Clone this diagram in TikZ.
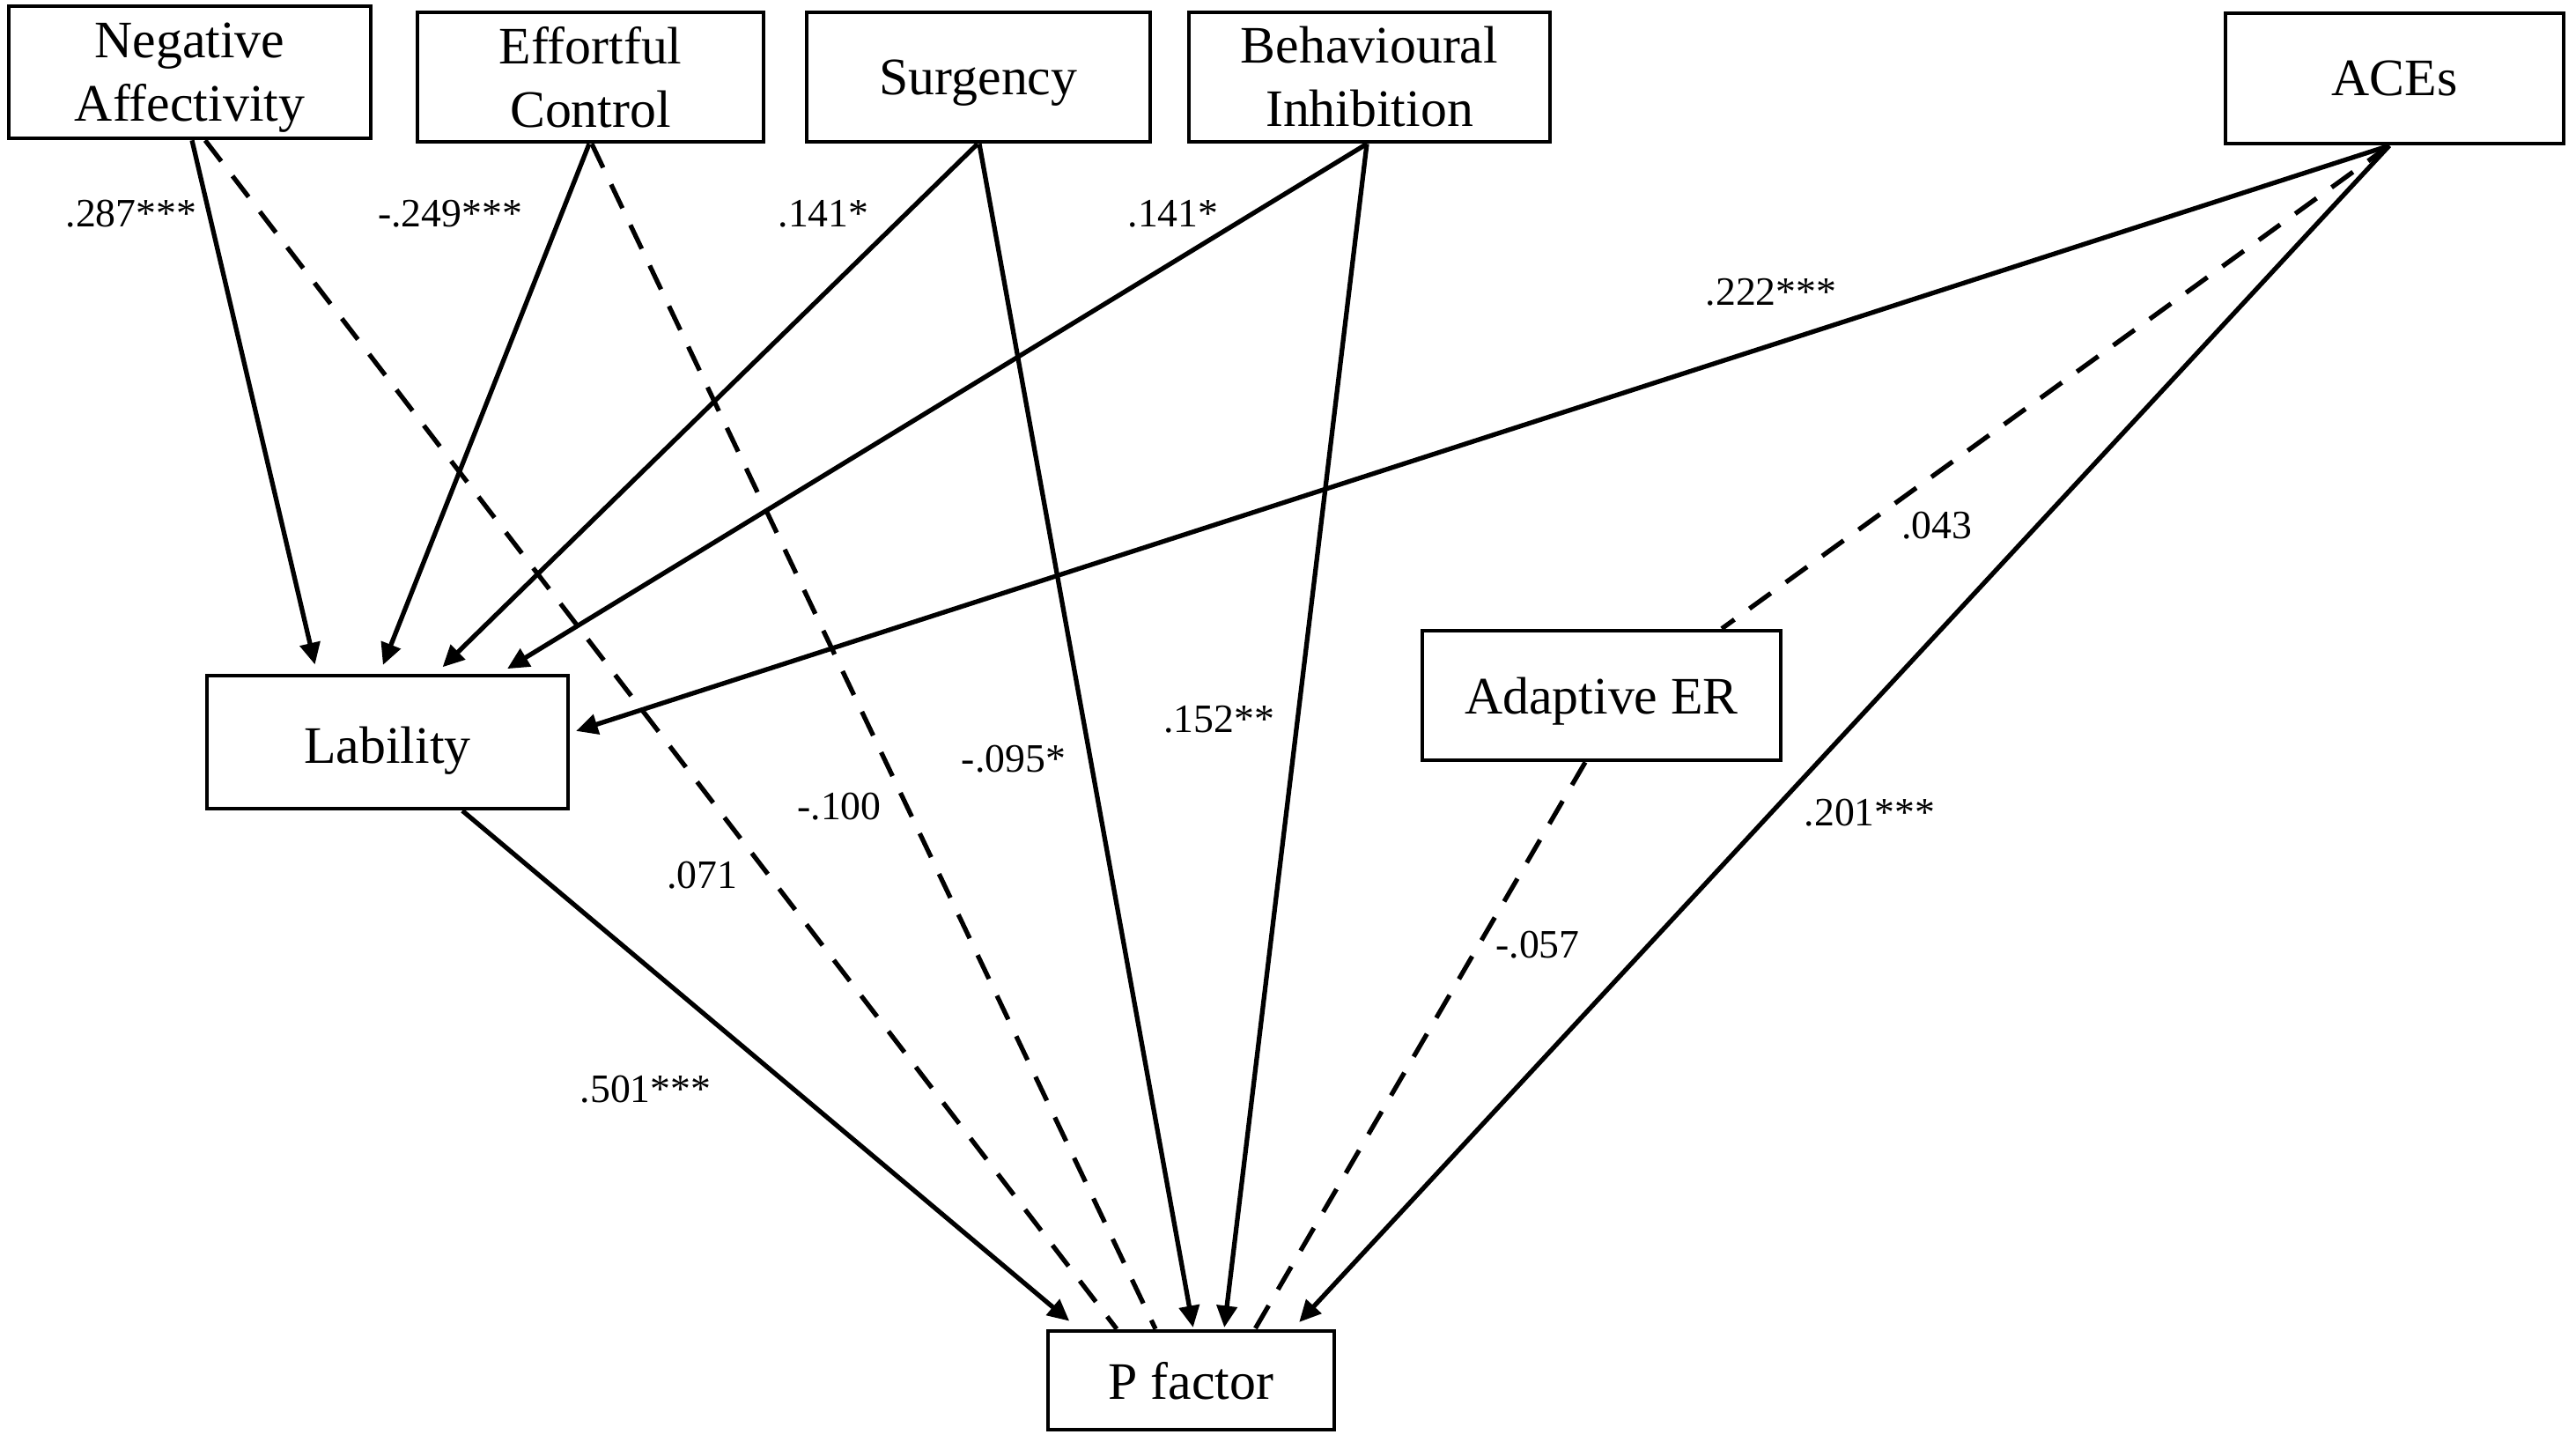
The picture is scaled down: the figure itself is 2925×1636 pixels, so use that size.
\documentclass[tikz,border=0pt]{standalone}
\usepackage{fontspec}
\setmainfont{Liberation Serif}
\usetikzlibrary{arrows.meta}
\newcommand\nodepth[1]{\raisebox{0pt}[\height][0pt]{#1}}
\begin{document}
\begin{tikzpicture}[x=0.01cm,y=-0.01cm,
  box/.style={draw, line width=1.3pt, inner sep=0pt, align=center, font=\fontsize{17}{20.5}\selectfont},
  onebox/.style={box, text depth=0pt},
  coef/.style={inner sep=0pt, font=\fontsize{13}{15}\selectfont},
  sol/.style={line width=1.5pt, -{Triangle[length=7pt,width=6.5pt]}, shorten >=3pt},
  dsh/.style={line width=1.5pt, dash pattern=on 8.5pt off 6pt},
]
\useasboundingbox[fill=white] (0,0) rectangle (2925,1636);
% boxes
\node[box, minimum width=4.11cm, minimum height=1.50cm] (NA) at (215.5,82) {Negative\\\nodepth{Affectivity}};
\node[box, minimum width=3.93cm, minimum height=1.47cm] (EC) at (670.5,87.5) {Effortful\\Control};
\node[onebox, minimum width=3.90cm, minimum height=1.47cm] (SU) at (1111,87.5) {Surgency};
\node[box, minimum width=4.10cm, minimum height=1.47cm] (BI) at (1555,87.5) {Behavioural\\Inhibition};
\node[onebox, minimum width=3.84cm, minimum height=1.48cm] (ACE) at (2719,89) {ACEs};
\node[onebox, minimum width=4.10cm, minimum height=1.51cm] (LAB) at (440,842.5) {\raisebox{-1pt}[\height][0pt]{Lability}};
\node[onebox, minimum width=4.07cm, minimum height=1.47cm] (AER) at (1818.5,789.5) {Adaptive ER};
\node[onebox, minimum width=3.25cm, minimum height=1.12cm] (PF) at (1352.5,1567) {P factor};
% paths to Lability
\draw[sol] (NA.south -| 218,0) -- (LAB.north -| 360,0);
\draw[sol] (EC.south -| 669,0) -- (LAB.north -| 431,0);
\draw[sol] (SU.south -| 1110,0) -- (LAB.north -| 495,0);
\draw[sol] (BI.south -| 1552,0) -- (LAB.north -| 567,0);
\draw[sol, shorten >=2pt] (ACE.south -| 2713,0) -- (LAB.east |- 0,832);
% paths to P factor
\draw[dsh] (NA.south -| 233,0) -- (PF.north -| 1268,0);
\draw[dsh] (EC.south -| 672,0) -- (PF.north -| 1312,0);
\draw[sol, shorten >=0.5pt] (SU.south -| 1112,0) -- (PF.north -| 1355,0);
\draw[sol, shorten >=0.5pt] (BI.south -| 1552,0) -- (PF.north -| 1390,0);
\draw[sol] (ACE.south -| 2713,0) -- (PF.north -| 1468,0);
\draw[sol, shorten >=4pt] (LAB.south -| 525,0) -- (PF.north -| 1225,0);
\draw[dsh] (AER.south -| 1800,0) -- (PF.north -| 1425,0);
\draw[dsh] (ACE.south -| 2713,0) -- (AER.north -| 1955,0);
% coefficients
\node[coef] (c1) at (149,243) {.287***};
\node[coef] (c2) at (511,243) {-.249***};
\node[coef] (c3) at (935,243) {.141*};
\node[coef] (c4) at (1332,243) {.141*};
\node[coef] (c5) at (2011,332) {.222***};
\node[coef] (c6) at (2199,597) {.043};
\node[coef] (c7) at (1384,817) {.152**};
\node[coef] (c8) at (1151,862) {-.095*};
\node[coef] (c9) at (953,916) {-.100};
\node[coef] (c10) at (797,994) {.071};
\node[coef] (c11) at (2123,923) {.201***};
\node[coef] (c12) at (1746,1073) {-.057};
\node[coef] (c13) at (733,1237) {.501***};
\end{tikzpicture}
\end{document}
